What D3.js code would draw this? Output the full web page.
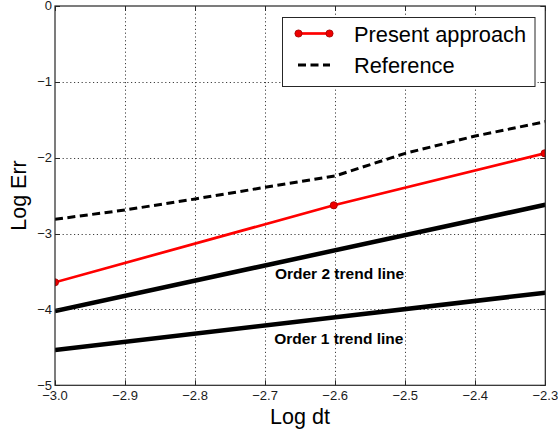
<!DOCTYPE html>
<html>
<head>
<meta charset="utf-8">
<script src="https://cdn.jsdelivr.net/npm/d3@7"></script>
<style>
  html, body { margin: 0; padding: 0; background: #fff; }
  svg { display: block; font-family: "Liberation Sans", Arial, sans-serif; }
</style>
</head>
<body>
<svg id="chart" width="558" height="433"></svg>
<script>
// Convergence data: log10 of time step vs log10 of error
const xTicks = [-3.0, -2.9, -2.8, -2.7, -2.6, -2.5, -2.4, -2.3];
const yTicks = [0, -1, -2, -3, -4, -5];

const presentX = [-3.0, -2.602, -2.301];
const presentY = [-3.642, -2.627, -1.942];

const referenceX = [-3.0, -2.9, -2.8, -2.7, -2.6, -2.5, -2.4, -2.3];
const referenceY = [-2.812, -2.689, -2.544, -2.39, -2.24, -1.942, -1.714, -1.525];

const order2X = [-3.0, -2.3];
const order2Y = [-4.02, -2.62];
const order1X = [-3.0, -2.3];
const order1Y = [-4.535, -3.78];

const labels = [
  { text: "Order 2 trend line", x: -2.686, y: -3.603 },
  { text: "Order 1 trend line", x: -2.687, y: -4.46 }
];

const svg = d3.select("#chart");
const pLeft = 55, pRight = 545.3, pTop = 6, pBottom = 385.3;

const x = d3.scaleLinear().domain([-3.0, -2.3]).range([pLeft, pRight]);
const y = d3.scaleLinear().domain([-5, 0]).range([pBottom, pTop]);
const minus = s => s.replace("-", "\u2212");
const fmtX = v => minus(v.toFixed(1));
const fmtY = v => (v === 0 ? "0" : minus(String(v)));

svg.append("defs").append("clipPath").attr("id", "plotClip")
  .append("rect").attr("x", pLeft).attr("y", pTop).attr("width", pRight - pLeft).attr("height", pBottom - pTop);

// dotted grid
const grid = svg.append("g").attr("stroke", "#404040").attr("stroke-width", 1).attr("stroke-dasharray", "1.2,2.6");
grid.selectAll("line.vx").data(xTicks.slice(1, -1)).join("line")
  .attr("x1", d => Math.round(x(d)) + 0.5).attr("x2", d => Math.round(x(d)) + 0.5)
  .attr("y1", pTop).attr("y2", pBottom);
grid.selectAll("line.hy").data(yTicks.slice(1, -1)).join("line")
  .attr("y1", d => Math.round(y(d)) + 0.5).attr("y2", d => Math.round(y(d)) + 0.5)
  .attr("x1", pLeft).attr("x2", pRight);

const plot = svg.append("g").attr("clip-path", "url(#plotClip)");
const line = d3.line().x(d => x(d[0])).y(d => y(d[1]));

// trend lines
plot.append("path").datum(d3.zip(order2X, order2Y)).attr("d", line)
  .attr("fill", "none").attr("stroke", "#000").attr("stroke-width", 4.5);
plot.append("path").datum(d3.zip(order1X, order1Y)).attr("d", line)
  .attr("fill", "none").attr("stroke", "#000").attr("stroke-width", 4.5);

// reference
plot.append("path").datum(d3.zip(referenceX, referenceY)).attr("d", line)
  .attr("fill", "none").attr("stroke", "#000").attr("stroke-width", 3)
  .attr("stroke-dasharray", "8,4.5");

// present approach
plot.append("path").datum(d3.zip(presentX, presentY)).attr("d", line)
  .attr("fill", "none").attr("stroke", "#ff0000").attr("stroke-width", 2.7);
plot.selectAll("circle.pt").data(d3.zip(presentX, presentY)).join("circle")
  .attr("cx", d => x(d[0])).attr("cy", d => y(d[1])).attr("r", 3.6)
  .attr("fill", "#ee0000").attr("stroke", "#a00000").attr("stroke-width", 0.8);

// trend labels
svg.selectAll("text.lbl").data(labels).join("text")
  .attr("x", d => x(d.x)).attr("y", d => y(d.y))
  .attr("font-size", 15.5).attr("font-weight", "bold").attr("fill", "#000")
  .text(d => d.text);

// axes box and ticks
const axisColor = "#262626";
svg.append("rect").attr("x", pLeft).attr("y", pTop).attr("width", pRight - pLeft).attr("height", pBottom - pTop)
  .attr("fill", "none").attr("stroke", axisColor).attr("stroke-width", 1.2);

const ticks = svg.append("g").attr("stroke", axisColor).attr("stroke-width", 1);
xTicks.forEach(v => {
  const px = Math.round(x(v)) + 0.5;
  ticks.append("line").attr("x1", px).attr("x2", px).attr("y1", pBottom).attr("y2", pBottom - 5);
  ticks.append("line").attr("x1", px).attr("x2", px).attr("y1", pTop).attr("y2", pTop + 5);
});
yTicks.forEach(v => {
  const py = Math.round(y(v)) + 0.5;
  ticks.append("line").attr("x1", pLeft).attr("x2", pLeft + 5).attr("y1", py).attr("y2", py);
  ticks.append("line").attr("x1", pRight).attr("x2", pRight - 5).attr("y1", py).attr("y2", py);
});

svg.selectAll("text.xt").data(xTicks).join("text")
  .attr("x", d => x(d)).attr("y", 400).attr("text-anchor", "middle")
  .attr("font-size", 13).attr("fill", "#1a1a1a").text(fmtX);
svg.selectAll("text.yt").data(yTicks).join("text")
  .attr("x", 52).attr("y", d => y(d) + 4.3).attr("text-anchor", "end")
  .attr("font-size", 13).attr("fill", "#1a1a1a").text(fmtY);

// axis titles
svg.append("text").attr("x", 300).attr("y", 423.5).attr("text-anchor", "middle")
  .attr("font-size", 21.5).attr("fill", "#000").text("Log dt");
svg.append("text").attr("transform", "translate(25.5,195.5) rotate(-90)").attr("text-anchor", "middle")
  .attr("font-size", 21.5).attr("fill", "#000").text("Log Err");

// legend
const lg = svg.append("g");
lg.append("rect").attr("x", 282.5).attr("y", 17.5).attr("width", 252.5).attr("height", 69)
  .attr("fill", "#fff").attr("stroke", axisColor).attr("stroke-width", 1);
lg.append("line").attr("x1", 298.5).attr("x2", 329.5).attr("y1", 33.5).attr("y2", 33.5)
  .attr("stroke", "#ff0000").attr("stroke-width", 2.7);
[298.5, 329.5].forEach(cx => lg.append("circle").attr("cx", cx).attr("cy", 33.5).attr("r", 3.6)
  .attr("fill", "#ee0000").attr("stroke", "#a00000").attr("stroke-width", 0.8));
lg.append("line").attr("x1", 298).attr("x2", 330).attr("y1", 65).attr("y2", 65)
  .attr("stroke", "#000").attr("stroke-width", 3).attr("stroke-dasharray", "8,4.5");
lg.append("text").attr("x", 354).attr("y", 41.5).attr("font-size", 21.8).attr("fill", "#000").text("Present approach");
lg.append("text").attr("x", 354).attr("y", 72.8).attr("font-size", 21.8).attr("fill", "#000").text("Reference");
</script>
</body>
</html>
